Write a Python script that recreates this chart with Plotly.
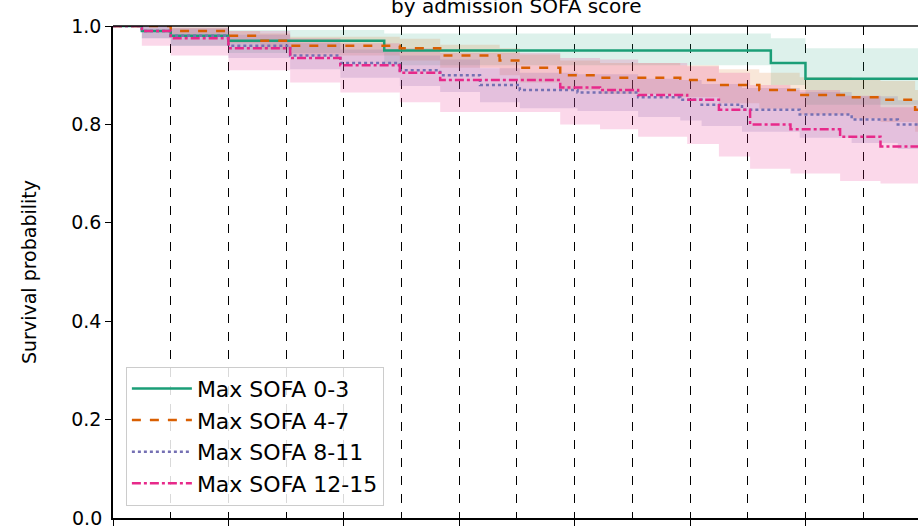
import plotly.graph_objects as go

labels = ["Max SOFA 0-3", "Max SOFA 4-7", "Max SOFA 8-11", "Max SOFA 12-15"]
colors = ["#1b9e77", "#d95f02", "#7570b3", "#e7298a"]
fills = ["rgba(27,158,119,0.15)", "rgba(217,95,2,0.15)", "rgba(117,112,179,0.2)", "rgba(231,41,138,0.18)"]
dashes = ["solid", "dash", "dot", "dashdot"]
ytick_vals = [0.2, 0.4, 0.6, 0.8, 1.0]
ytick_text = ["0.2", "0.4", "0.6", "0.8", "1.0"]

t0 = [0, 0.5, 1, 2, 4.7, 11.4, 12.0, 13.95]
s0 = [1, 0.99, 0.98, 0.97, 0.95, 0.925, 0.893, 0.893]
lo0 = [1, 0.975, 0.96, 0.945, 0.92, 0.88, 0.84, 0.84]
hi0 = [1, 1, 0.997, 0.992, 0.985, 0.975, 0.955, 0.955]

t1 = [0, 1, 2, 2.55, 3.07, 4.97, 5.67, 6.7, 7.05, 7.75, 8.44, 9.83, 10.5, 11.2, 11.9, 12.8, 13.3, 13.9, 13.95]
s1 = [1, 0.99, 0.98, 0.97, 0.96, 0.955, 0.94, 0.93, 0.915, 0.90, 0.895, 0.89, 0.88, 0.87, 0.86, 0.855, 0.85, 0.83, 0.83]
lo1 = [1, 0.98, 0.965, 0.952, 0.94, 0.93, 0.915, 0.9, 0.885, 0.87, 0.862, 0.855, 0.843, 0.832, 0.82, 0.812, 0.805, 0.785, 0.785]
hi1 = [1, 0.997, 0.99, 0.985, 0.978, 0.974, 0.962, 0.955, 0.942, 0.93, 0.925, 0.92, 0.912, 0.905, 0.896, 0.892, 0.888, 0.87, 0.87]

t2 = [0, 0.5, 1, 2, 3.07, 3.94, 4.97, 5.67, 6.36, 7.05, 8.05, 9.1, 9.83, 10.2, 10.9, 11.9, 12.8, 13.6, 13.95]
s2 = [1, 0.99, 0.98, 0.96, 0.94, 0.925, 0.91, 0.90, 0.88, 0.87, 0.865, 0.855, 0.85, 0.84, 0.83, 0.82, 0.81, 0.80, 0.80]
lo2 = [1, 0.975, 0.96, 0.935, 0.912, 0.895, 0.878, 0.866, 0.845, 0.833, 0.827, 0.815, 0.808, 0.797, 0.785, 0.773, 0.762, 0.75, 0.75]
hi2 = [1, 1, 0.995, 0.982, 0.965, 0.952, 0.94, 0.932, 0.914, 0.905, 0.902, 0.893, 0.89, 0.882, 0.874, 0.866, 0.857, 0.849, 0.849]

t3 = [0, 0.5, 1, 2, 3.07, 3.94, 4.97, 5.67, 7.75, 8.44, 9.1, 9.95, 10.5, 11.04, 11.74, 12.6, 13.3, 13.95]
s3 = [1, 0.99, 0.975, 0.955, 0.935, 0.92, 0.905, 0.89, 0.875, 0.87, 0.86, 0.85, 0.83, 0.80, 0.79, 0.775, 0.755, 0.755]
lo3 = [1, 0.96, 0.94, 0.91, 0.885, 0.865, 0.845, 0.825, 0.8, 0.79, 0.775, 0.76, 0.735, 0.71, 0.7, 0.685, 0.68, 0.68]
hi3 = [1, 1, 0.997, 0.99, 0.975, 0.965, 0.955, 0.945, 0.935, 0.932, 0.925, 0.918, 0.905, 0.88, 0.87, 0.858, 0.835, 0.835]

series = [(t0, s0, lo0, hi0), (t1, s1, lo1, hi1), (t2, s2, lo2, hi2), (t3, s3, lo3, hi3)]

fig = go.Figure()
for i, (t, s, lo, hi) in enumerate(series):
    fig.add_trace(go.Scatter(x=t, y=hi, mode="lines", line=dict(width=0, shape="hv"),
                             showlegend=False, hoverinfo="skip"))
    fig.add_trace(go.Scatter(x=t, y=lo, mode="lines", line=dict(width=0, shape="hv"),
                             fill="tonexty", fillcolor=fills[i], showlegend=False, hoverinfo="skip"))
for i, (t, s, lo, hi) in enumerate(series):
    fig.add_trace(go.Scatter(x=t, y=s, mode="lines", name=labels[i],
                             line=dict(color=colors[i], width=2.5, dash=dashes[i], shape="hv")))

fig.add_shape(type="line", xref="paper", yref="paper", x0=0, x1=1, y0=1, y1=1,
              line=dict(color="black", width=1.5))
fig.add_annotation(text="by admission SOFA score", xref="paper", yref="paper", x=0.5, y=1,
                   yshift=6, yanchor="bottom", showarrow=False,
                   font=dict(size=20, color="black"))
fig.add_annotation(text="0.0", xref="paper", yref="y", x=0, y=0, xanchor="right", yanchor="middle",
                   xshift=-9, showarrow=False, font=dict(size=19, color="black"))

fig.update_layout(
    width=918, height=528, margin=dict(l=113, r=0, t=26, b=10, autoexpand=False),
    plot_bgcolor="white", paper_bgcolor="white",
    font=dict(family="DejaVu Sans", color="black", size=19),
    xaxis=dict(range=[0, 13.95], tickvals=[0, 2, 4, 6, 8, 10, 12], showticklabels=False,
               ticks="outside", ticklen=6, tickcolor="black", showline=True, linecolor="black",
               linewidth=1.5, showgrid=True, gridcolor="black", griddash="dash", gridwidth=0.7,
               minor=dict(dtick=1, showgrid=True, gridcolor="black", griddash="dash", gridwidth=0.7),
               zeroline=False, automargin=False),
    yaxis=dict(range=[0, 1], tickvals=ytick_vals, ticktext=ytick_text,
               ticks="outside", ticklen=6, tickcolor="black", showline=True, linecolor="black",
               linewidth=1.5, showgrid=False, zeroline=False, automargin=False,
               tickfont=dict(size=19),
               title=dict(text="Survival probability", font=dict(size=19), standoff=30)),
    legend=dict(x=0.016, y=0.025, xanchor="left", yanchor="bottom", bgcolor="rgba(255,255,255,0.85)",
                bordercolor="#cccccc", borderwidth=1, font=dict(size=22), tracegroupgap=0,
                traceorder="normal", itemwidth=60),
)
fig.write_html("out.html", config={"displayModeBar": False})
with open("out.html", encoding="utf-8") as f:
    html = f.read()
html = html.replace("<body>", "<body style=\"margin:0;overflow:hidden\">", 1)
with open("out.html", "w", encoding="utf-8") as f:
    f.write(html)
